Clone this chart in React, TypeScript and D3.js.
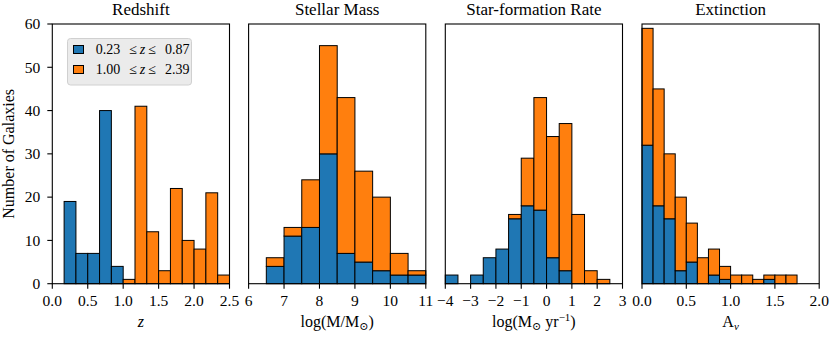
import React from 'react';
import * as d3 from 'd3';

// histogram counts
const zEdgeStart = 1 / 6;
const zBinWidth = 1 / 6;
const zBlue = [19, 7, 7, 40, 4, 0, 0, 0, 0, 0, 0, 0, 0, 0];
const zOrange = [0, 0, 0, 0, 0, 1, 41, 12, 3, 22, 10, 8, 21, 2];
const zTicks = [0, 0.5, 1.0, 1.5, 2.0, 2.5];

const massEdgeStart = 6.5;
const massBinWidth = 0.5;
const massBlue = [4, 11, 13, 30, 7, 5, 3, 2, 2];
const massOrange = [2, 2, 11, 25, 36, 21, 17, 5, 1];
const massTicks = [6, 7, 8, 9, 10, 11];

const sfrEdgeStart = -4;
const sfrBinWidth = 0.5;
const sfrBlue = [2, 0, 2, 6, 8, 15, 18, 17, 6, 3, 0, 0, 0];
const sfrOrange = [0, 0, 0, 0, 0, 1, 11, 26, 28, 34, 16, 3, 1];
const sfrTicks = [-4, -3, -2, -1, 0, 1, 2, 3];

const avEdgeStart = 0;
const avBinWidth = 0.125;
const avBlue = [32, 18, 15, 3, 5, 0, 2, 1, 0, 0, 0, 1, 0, 0];
const avOrange = [27, 27, 15, 17, 9, 6, 6, 3, 2, 2, 1, 1, 2, 2];
const avTicks = [0, 0.5, 1.0, 1.5, 2.0];

const yTicks = [0, 10, 20, 30, 40, 50, 60];

const BLUE = '#1f77b4';
const ORANGE = '#ff7f0e';
const FONT = '"Liberation Serif", "DejaVu Serif", serif';

const W = 831;
const H = 343;
const top = 24;
const bottom = 283.7;
const panelW = 177.2;
const lefts = [52.3, 248.6, 445.3, 642];
const TICK_FS = 15.5;
const LABEL_FS = 16;

const y = d3.scaleLinear().domain([0, 60]).range([bottom, top]);

type Panel = {
  title: string;
  domain: [number, number];
  start: number;
  width: number;
  blue: number[];
  orange: number[];
  ticks: number[];
  fmt: (v: number) => string;
  label: React.ReactNode;
};

const fmt1 = (v: number) => d3.format('.1f')(v);
const fmtInt = (v: number) => d3.format('d')(v).replace('-', '\u2212');

const panels: Panel[] = [
  {
    title: 'Redshift', domain: [0, 2.5], start: zEdgeStart, width: zBinWidth,
    blue: zBlue, orange: zOrange, ticks: zTicks, fmt: fmt1,
    label: <tspan fontStyle="italic">z</tspan>,
  },
  {
    title: 'Stellar Mass', domain: [6, 11], start: massEdgeStart, width: massBinWidth,
    blue: massBlue, orange: massOrange, ticks: massTicks, fmt: fmtInt,
    label: (
      <>
        <tspan>log(M/M</tspan>
        <tspan fontSize="11" dy="3">⊙</tspan>
        <tspan dy="-3">)</tspan>
      </>
    ),
  },
  {
    title: 'Star-formation Rate', domain: [-4, 3], start: sfrEdgeStart, width: sfrBinWidth,
    blue: sfrBlue, orange: sfrOrange, ticks: sfrTicks, fmt: fmtInt,
    label: (
      <>
        <tspan>log(M</tspan>
        <tspan fontSize="11" dy="3">⊙</tspan>
        <tspan dy="-3"> yr</tspan>
        <tspan fontSize="11" dy="-6">−1</tspan>
        <tspan dy="6">)</tspan>
      </>
    ),
  },
  {
    title: 'Extinction', domain: [0, 2], start: avEdgeStart, width: avBinWidth,
    blue: avBlue, orange: avOrange, ticks: avTicks, fmt: fmt1,
    label: (
      <>
        <tspan>A</tspan>
        <tspan fontSize="11" dy="3" fontStyle="italic">ν</tspan>
      </>
    ),
  },
];

const PanelView = ({ p, left, first }: { p: Panel; left: number; first: boolean }) => {
  const x = d3.scaleLinear().domain(p.domain).range([left, left + panelW]);
  const bars: React.ReactNode[] = [];
  p.blue.forEach((b, i) => {
    const x0 = x(p.start + i * p.width);
    const x1 = x(p.start + (i + 1) * p.width);
    const o = p.orange[i];
    if (b > 0) {
      bars.push(
        <rect key={`b${i}`} x={x0} y={y(b)} width={x1 - x0} height={y(0) - y(b)}
          fill={BLUE} stroke="#000" strokeWidth={1} />
      );
    }
    if (o > 0) {
      bars.push(
        <rect key={`o${i}`} x={x0} y={y(b + o)} width={x1 - x0} height={y(b) - y(b + o)}
          fill={ORANGE} stroke="#000" strokeWidth={1} />
      );
    }
  });
  const cx = left + panelW / 2;
  return (
    <g>
      {bars}
      <rect x={left} y={top} width={panelW} height={bottom - top} fill="none" stroke="#000" strokeWidth={1.1} />
      {p.ticks.map((t) => (
        <g key={t}>
          <line x1={x(t)} x2={x(t)} y1={bottom} y2={bottom + 5} stroke="#000" strokeWidth={1.1} />
          <text x={x(t)} y={306} textAnchor="middle" fontSize={TICK_FS}>{p.fmt(t)}</text>
        </g>
      ))}
      {first && yTicks.map((t) => (
        <g key={`y${t}`}>
          <line x1={left - 5} x2={left} y1={y(t)} y2={y(t)} stroke="#000" strokeWidth={1.1} />
          <text x={left - 12} y={y(t)} dy="0.34em" textAnchor="end" fontSize={TICK_FS}>{t}</text>
        </g>
      ))}
      <text x={cx} y={15.3} textAnchor="middle" fontSize={17}>{p.title}</text>
      <text x={cx} y={327} textAnchor="middle" fontSize={LABEL_FS}>{p.label}</text>
    </g>
  );
};

const Legend = () => {
  const lx = 67.5;
  const ly = 38.5;
  const items = [
    { color: BLUE, lo: '0.23', hi: '0.87' },
    { color: ORANGE, lo: '1.00', hi: '2.39' },
  ];
  const tx = lx + 28.2;
  return (
    <g>
      <rect x={lx} y={ly} width={124} height={46.5} rx={3} fill="#ebebeb" stroke="#d0d0d0" strokeWidth={1} />
      {items.map((it, i) => {
        const by = ly + 15 + i * 20;
        return (
          <g key={i} fontSize={14}>
            <rect x={lx + 6} y={ly + 7 + i * 20} width={10} height={8} fill={it.color} stroke="#000" strokeWidth={1} />
            <text x={tx} y={by}>{it.lo}</text>
            <text x={tx + 37.3} y={by} textAnchor="middle">≤</text>
            <text x={tx + 46.8} y={by} textAnchor="middle" fontStyle="italic">z</text>
            <text x={tx + 56.5} y={by} textAnchor="middle">≤</text>
            <text x={tx + 69.3} y={by}>{it.hi}</text>
          </g>
        );
      })}
    </g>
  );
};

export default function App() {
  return (
    <svg width={W} height={H} style={{ position: 'absolute', left: 0, top: 0, background: '#fff' }}
      fontFamily={FONT} fill="#000">
      <rect x={0} y={0} width={W} height={H} fill="#fff" />
      {panels.map((p, i) => (
        <PanelView key={p.title} p={p} left={lefts[i]} first={i === 0} />
      ))}
      <Legend />
      <text transform={`translate(14, ${(top + bottom) / 2}) rotate(-90)`} textAnchor="middle" fontSize={LABEL_FS}>
        Number of Galaxies
      </text>
    </svg>
  );
}
